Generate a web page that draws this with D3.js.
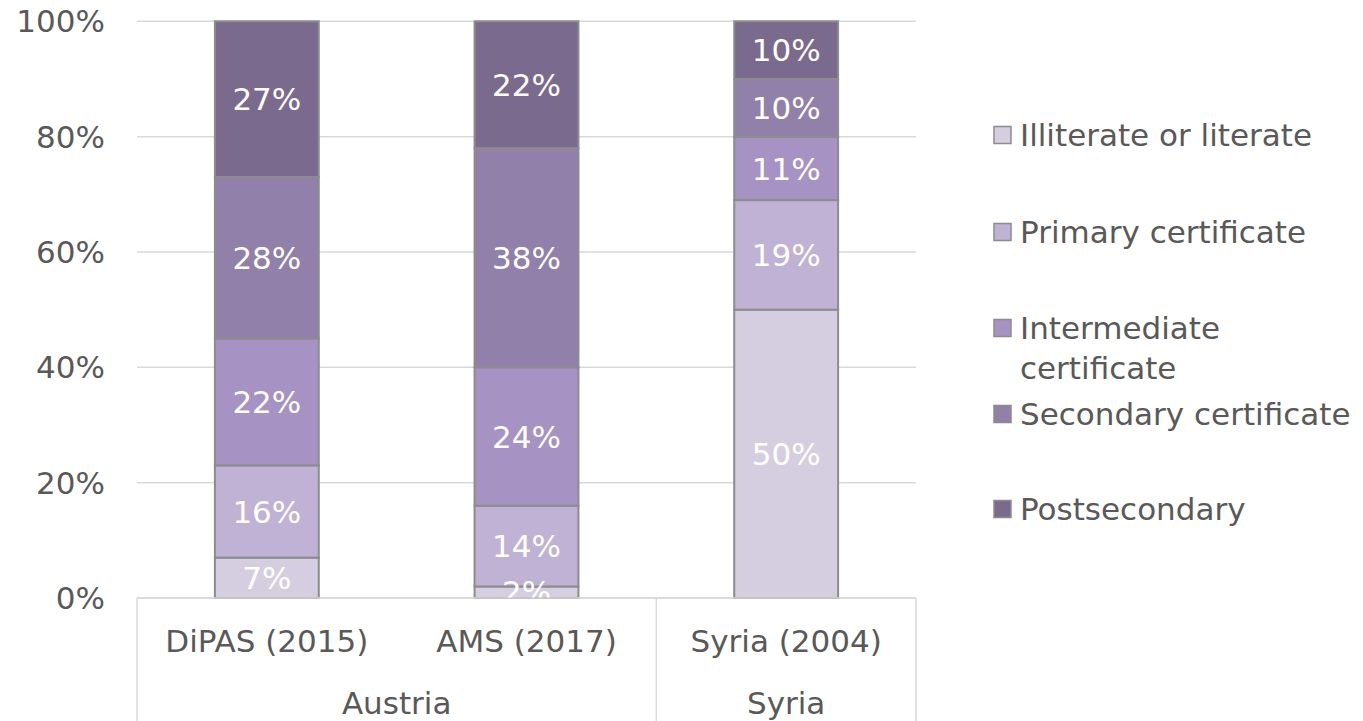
<!DOCTYPE html>
<html>
<head>
<meta charset="utf-8">
<script src="https://cdn.jsdelivr.net/npm/d3@7"></script>
<style>
  body { margin: 0; background: #fff; }
  svg { display: block; font-family: "DejaVu Sans", Verdana, sans-serif; }
</style>
</head>
<body>
<div id="vis"></div>
<script>
// data
const groups = ['Austria', 'Austria', 'Syria'];
const sources = ['DiPAS (2015)', 'AMS (2017)', 'Syria (2004)'];
const levels = ['Illiterate or literate', 'Primary certificate', 'Intermediate certificate',
                'Secondary certificate', 'Postsecondary'];
const illiterate = [7, 2, 50];
const primary = [16, 14, 19];
const intermediate = [22, 24, 11];
const secondary = [28, 38, 10];
const postsecondary = [27, 22, 10];
const yTicks = [0, 20, 40, 60, 80, 100];
const colors = ['#d5cee1', '#c0b2d4', '#a692c3', '#9080aa', '#7a6b8e'];

const WIDTH = 1363;
const HEIGHT = 721;
const PLOT = {left: 137, right: 916, top: 21.3, bottom: 598};
const FONT = '31px';

const svg = d3.select('#vis').append('svg')
    .attr('width', WIDTH)
    .attr('height', HEIGHT);

const x = d3.scaleBand()
    .domain(sources)
    .range([PLOT.left, PLOT.right])
    .paddingInner(0.6)
    .paddingOuter(0.3);

const y = d3.scaleLinear()
    .domain([0, 100])
    .range([PLOT.bottom, PLOT.top]);

// gridlines
svg.append('g')
    .selectAll('line')
    .data(yTicks)
    .join('line')
    .attr('x1', PLOT.left)
    .attr('x2', PLOT.right)
    .attr('y1', d => y(d))
    .attr('y2', d => y(d))
    .attr('stroke', '#d9d9d9')
    .attr('stroke-width', 1.5);

// y tick labels
svg.append('g')
    .selectAll('text')
    .data(yTicks)
    .join('text')
    .attr('x', 105)
    .attr('y', d => y(d))
    .attr('dy', '0.36em')
    .attr('text-anchor', 'end')
    .attr('fill', '#595959')
    .style('font-size', FONT)
    .text(d => d + '%');

// stack
const rows = sources.map((s, i) => ({
    source: s,
    [levels[0]]: illiterate[i],
    [levels[1]]: primary[i],
    [levels[2]]: intermediate[i],
    [levels[3]]: secondary[i],
    [levels[4]]: postsecondary[i]
}));
const series = d3.stack().keys(levels)(rows);

svg.append('clipPath')
    .attr('id', 'plot-clip')
    .append('rect')
    .attr('x', PLOT.left)
    .attr('y', 0)
    .attr('width', PLOT.right - PLOT.left)
    .attr('height', PLOT.bottom);

const layer = svg.append('g')
    .selectAll('g')
    .data(series)
    .join('g')
    .attr('fill', (d, i) => colors[i]);

layer.selectAll('rect')
    .data(d => d)
    .join('rect')
    .attr('x', d => x(d.data.source))
    .attr('width', x.bandwidth())
    .attr('y', d => y(d[1]))
    .attr('height', d => y(d[0]) - y(d[1]))
    .attr('stroke', '#8c8c8c')
    .attr('stroke-width', 2);

// value labels
svg.append('g')
    .attr('clip-path', 'url(#plot-clip)')
    .selectAll('g')
    .data(series)
    .join('g')
    .selectAll('text')
    .data(d => d)
    .join('text')
    .attr('x', d => x(d.data.source) + x.bandwidth() / 2)
    .attr('y', d => y((d[0] + d[1]) / 2))
    .attr('dy', '0.36em')
    .attr('text-anchor', 'middle')
    .attr('fill', '#ffffff')
    .style('font-size', FONT)
    .text(d => (d[1] - d[0]) + '%');

// category axis
const axis = svg.append('g')
    .attr('stroke', '#d9d9d9')
    .attr('stroke-width', 1.5);

axis.append('line')
    .attr('x1', PLOT.left).attr('x2', PLOT.right)
    .attr('y1', PLOT.bottom).attr('y2', PLOT.bottom);

const step = x.step();
const groupSpans = d3.groups(sources.map((s, i) => ({s, g: groups[i], i})), d => d.g)
    .map(([g, items]) => ({
        name: g,
        x0: PLOT.left + items[0].i * step,
        x1: PLOT.left + (items[items.length - 1].i + 1) * step
    }));

const edges = [PLOT.left, ...groupSpans.map(d => d.x1)];
axis.selectAll('line.sep')
    .data(edges)
    .join('line')
    .attr('class', 'sep')
    .attr('x1', d => d).attr('x2', d => d)
    .attr('y1', PLOT.bottom).attr('y2', HEIGHT);

svg.append('g')
    .selectAll('text')
    .data(sources)
    .join('text')
    .attr('x', d => x(d) + x.bandwidth() / 2)
    .attr('y', 641)
    .attr('dy', '0.36em')
    .attr('text-anchor', 'middle')
    .attr('fill', '#595959')
    .style('font-size', FONT)
    .text(d => d);

svg.append('g')
    .selectAll('text')
    .data(groupSpans)
    .join('text')
    .attr('x', d => (d.x0 + d.x1) / 2)
    .attr('y', 703)
    .attr('dy', '0.36em')
    .attr('text-anchor', 'middle')
    .attr('fill', '#595959')
    .style('font-size', FONT)
    .text(d => d.name);

// legend
const legendY = [135, 232, 328, 414, 509];
const legendLines = [['Illiterate or literate'], ['Primary certificate'],
                     ['Intermediate', 'certificate'], ['Secondary certificate'], ['Postsecondary']];
const legend = svg.append('g')
    .selectAll('g')
    .data(levels)
    .join('g')
    .attr('transform', (d, i) => `translate(994,${legendY[i]})`);

legend.append('rect')
    .attr('x', 0)
    .attr('y', -8.5)
    .attr('width', 17)
    .attr('height', 17)
    .attr('fill', (d, i) => colors[i])
    .attr('stroke', '#8c8c8c')
    .attr('stroke-width', 1.5);

legend.append('text')
    .attr('x', 26)
    .attr('fill', '#595959')
    .style('font-size', FONT)
    .selectAll('tspan')
    .data((d, i) => legendLines[i])
    .join('tspan')
    .attr('x', 26)
    .attr('y', (d, j) => j * 40)
    .attr('dy', '0.36em')
    .text(d => d);
</script>
</body>
</html>
